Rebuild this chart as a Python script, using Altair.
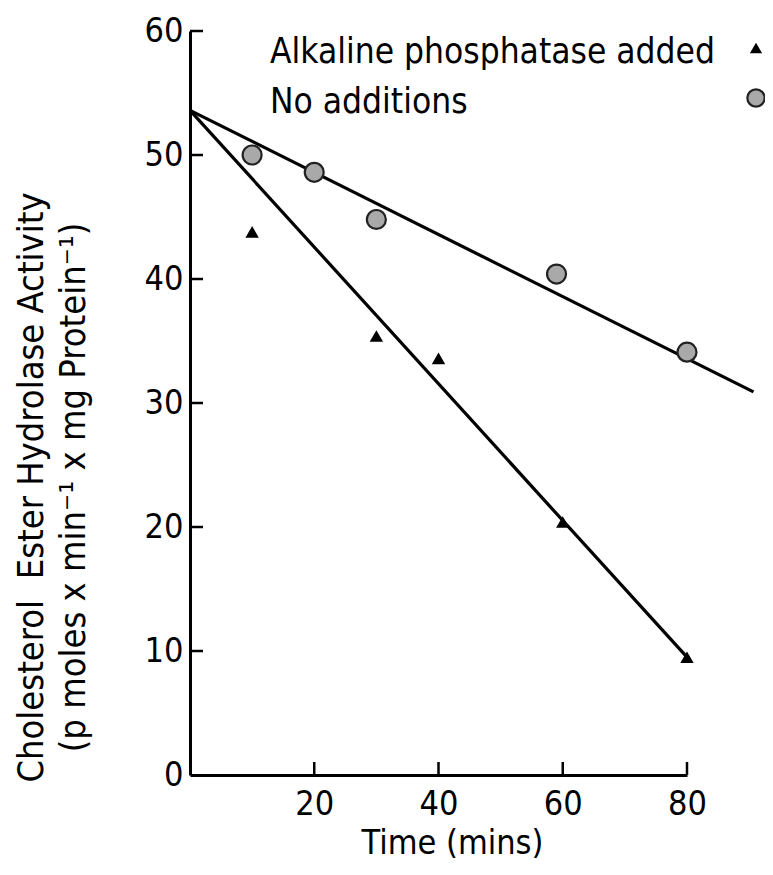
import altair as alt
import pandas as pd

# ---- data ----
alk_time = [10, 30, 40, 60, 80]
alk_activity = [43.8, 35.4, 33.6, 20.4, 9.5]
none_time = [10, 20, 30, 59, 80]
none_activity = [50.0, 48.6, 44.8, 40.4, 34.1]
alk_fit_time = [0, 80]
alk_fit_activity = [53.6, 9.5]
none_fit_time = [0, 90.7]
none_fit_activity = [53.6, 30.9]
x_tick_values = [20, 40, 60, 80]
y_tick_values = [10, 20, 30, 40, 50, 60]
y_label_values = [0, 10, 20, 30, 40, 50, 60]
legend_labels = ["Alkaline phosphatase added", "No additions"]
x_title = "Time (mins)"
y_title = ["Cholesterol\u00a0 Ester Hydrolase Activity",
           "(p moles x min\u207b\u00b9 x mg Protein\u207b\u00b9)"]

FONT = "Liberation Sans Narrow, DejaVu Sans Condensed, sans-serif"
FS = 34
W, H = 497, 744

x_scale = alt.Scale(domain=[0, 80], nice=False, zero=True)
y_scale = alt.Scale(domain=[0, 60], nice=False)

x_axis = alt.Axis(values=x_tick_values, ticks=False, grid=False, labelFont=FONT,
                  labelFontSize=FS, labelColor="black", labelPadding=12,
                  labelFlush=False, labelOverlap=False,
                  domainColor="black", domainWidth=3,
                  title=x_title, titleFont=FONT, titleFontSize=FS,
                  titleFontWeight="normal", titleColor="black",
                  titleX=262, titleY=68, titleBaseline="middle", titleAlign="center")
y_axis = alt.Axis(values=y_label_values, ticks=False, grid=False, labelFont=FONT,
                  labelFontSize=FS, labelColor="black", labelPadding=7,
                  labelFlush=False, labelOverlap=False, labelBaseline="middle",
                  domainColor="black", domainWidth=3,
                  title=y_title, titleFont=FONT, titleFontSize=36,
                  titleFontWeight="normal", titleColor="black",
                  titleAngle=270, titleX=-176, titleY=456,
                  titleAlign="center", titleBaseline="top", titleLineHeight=42)


def X(field):
    return alt.X(f"{field}:Q", scale=x_scale, axis=x_axis)


def Y(field):
    return alt.Y(f"{field}:Q", scale=y_scale, axis=y_axis)


alk_pts = pd.DataFrame({"time": alk_time, "activity": alk_activity})
none_pts = pd.DataFrame({"time": none_time, "activity": none_activity})
alk_fit = pd.DataFrame({"time": alk_fit_time, "activity": alk_fit_activity})
none_fit = pd.DataFrame({"time": none_fit_time, "activity": none_fit_activity})

lines = alt.layer(
    alt.Chart(alk_fit).mark_line(color="black", strokeWidth=3.2).encode(x=X("time"), y=Y("activity")),
    alt.Chart(none_fit).mark_line(color="black", strokeWidth=3.2).encode(x=X("time"), y=Y("activity")),
)

tri = alt.Chart(alk_pts).mark_point(shape="triangle-up", filled=True, color="black",
                                    size=180, opacity=1).encode(x=X("time"), y=Y("activity"))
circ = alt.Chart(none_pts).mark_point(shape="circle", filled=True, fill="#a9a9a9",
                                      stroke="#222222", strokeWidth=2.2, size=360,
                                      opacity=1).encode(x=X("time"), y=Y("activity"))

x_ticks = alt.Chart(pd.DataFrame({"time": x_tick_values})).mark_rule(
    color="black", strokeWidth=2.5).encode(x=X("time"), y=alt.value(H), y2=alt.value(H - 13))
y_ticks = alt.Chart(pd.DataFrame({"activity": y_tick_values})).mark_rule(
    color="black", strokeWidth=2.5).encode(y=Y("activity"), x=alt.value(0), x2=alt.value(13))

leg_text1 = alt.Chart(pd.DataFrame({"label": [legend_labels[0]]})).mark_text(
    font=FONT, fontSize=35, align="left", baseline="alphabetic", color="black"
).encode(text="label:N", x=alt.value(80), y=alt.value(32))
leg_text2 = alt.Chart(pd.DataFrame({"label": [legend_labels[1]]})).mark_text(
    font=FONT, fontSize=35, align="left", baseline="alphabetic", color="black"
).encode(text="label:N", x=alt.value(80), y=alt.value(82))
leg_tri = alt.Chart(pd.DataFrame({"label": [legend_labels[0]]})).mark_point(
    shape="triangle-up", filled=True, color="black", size=150, opacity=1
).encode(x=alt.value(566), y=alt.value(17))
leg_circ = alt.Chart(pd.DataFrame({"label": [legend_labels[1]]})).mark_point(
    shape="circle", filled=True, fill="#a9a9a9", stroke="#222222", strokeWidth=2.2,
    size=300, opacity=1
).encode(x=alt.value(566), y=alt.value(67))

chart = alt.layer(
    lines, x_ticks, y_ticks, tri, circ, leg_text1, leg_text2, leg_tri, leg_circ
).properties(
    width=W, height=H,
    padding={"left": 182, "top": 23, "right": 78, "bottom": 90},
    autosize=alt.AutoSizeParams(type="none"),
    background="white",
).configure_view(stroke=None)

chart.save("out.html", embed_options={"renderer": "svg", "actions": False})
